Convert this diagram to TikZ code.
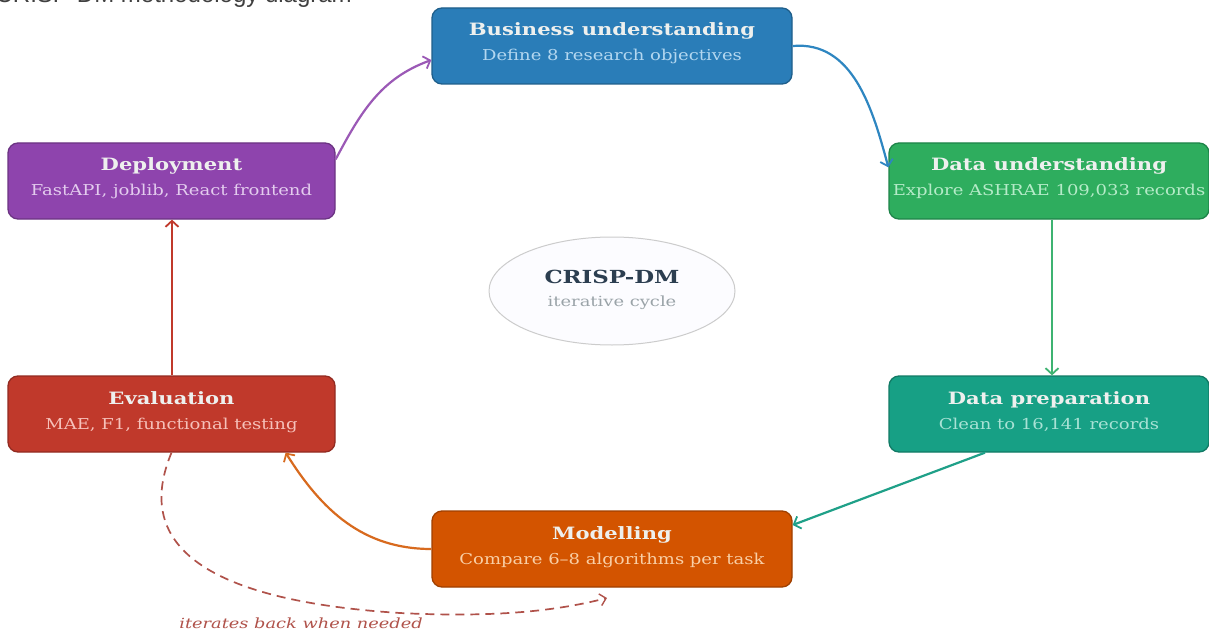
\documentclass[tikz,border=0pt]{standalone}
\usepackage{graphicx}
\usepackage{fontspec}
\setmainfont{DejaVu Serif}
\newfontfamily\capsans{Liberation Sans}
\usetikzlibrary{arrows.meta,shapes.geometric,calc}
\definecolor{cBus}{HTML}{2A7DB8}\definecolor{cBusD}{HTML}{1F5F8B}\definecolor{cBusT}{HTML}{B3D7F0}
\definecolor{cDU}{HTML}{2EAD5E}\definecolor{cDUD}{HTML}{1E8449}\definecolor{cDUT}{HTML}{B5EBC8}
\definecolor{cDep}{HTML}{8E44AD}\definecolor{cDepD}{HTML}{6C3483}\definecolor{cDepT}{HTML}{E3CCEE}
\definecolor{cDP}{HTML}{17A085}\definecolor{cDPD}{HTML}{117A65}\definecolor{cDPT}{HTML}{A8E2D5}
\definecolor{cEv}{HTML}{C0392B}\definecolor{cEvD}{HTML}{922B21}\definecolor{cEvT}{HTML}{F6C1BA}
\definecolor{cMod}{HTML}{D35400}\definecolor{cModD}{HTML}{A04000}\definecolor{cModT}{HTML}{F9CFA6}
\definecolor{cTitle}{HTML}{EEF0EE}
\definecolor{aDep}{HTML}{9B59B6}\definecolor{aBus}{HTML}{2E86C1}\definecolor{aDU}{HTML}{3DB371}
\definecolor{aDP}{HTML}{1FA088}\definecolor{aMod}{HTML}{D86A1E}\definecolor{aEv}{HTML}{C0392B}
\definecolor{aDash}{HTML}{B0524A}
\tikzset{
  phase/.style={rectangle, rounded corners=10pt, line width=1.3pt,
    minimum height=76pt, inner sep=0pt},
  ptitle/.style={anchor=base, inner sep=0pt, text=cTitle},
  psub/.style={anchor=base, inner sep=0pt},
  flow/.style={line width=2.2pt, -{Straight Barb[length=6pt,width=13pt,line width=1.8pt]}},
}
\newcommand{\ttl}[1]{\scalebox{1.24}[1]{\fontsize{17}{20}\selectfont\bfseries #1}}
\newcommand{\sbt}[1]{\scalebox{1.2}[1]{\fontsize{15}{18}\selectfont #1}}
\begin{document}
\begin{tikzpicture}[x=1pt,y=1pt]
\useasboundingbox (0,0) rectangle (1209,633);
\fill[white] (0,0) rectangle (1209,633);
\begin{scope}
\clip (0,0) rectangle (1209,633);
\node[anchor=base east, inner sep=0pt, text=black!75] (cap) at (352,630)
  {\capsans\fontsize{24}{26}\selectfont Figure 3.1: CRISP-DM methodology diagram};
\end{scope}

\node[phase, fill=cBus, draw=cBusD, minimum width=360pt] (bus) at (612,587) {};
\node[phase, fill=cDU, draw=cDUD, minimum width=320pt] (du) at (1049,452) {};
\node[phase, fill=cDep, draw=cDepD, minimum width=327pt] (dep) at (171.5,452) {};
\node[phase, fill=cDP, draw=cDPD, minimum width=320pt] (dp) at (1049,219) {};
\node[phase, fill=cEv, draw=cEvD, minimum width=327pt] (ev) at (171.5,219) {};
\node[phase, fill=cMod, draw=cModD, minimum width=360pt] (mod) at (612,84) {};

\node[ptitle] (busT) at ([yshift=10pt]bus.center) {\ttl{Business understanding}};
\node[psub, text=cBusT] (busS) at ([yshift=-15pt]bus.center) {\sbt{Define 8 research objectives}};
\node[ptitle] (duT) at ([yshift=10pt]du.center) {\ttl{Data understanding}};
\node[psub, text=cDUT] (duS) at ([yshift=-15pt]du.center) {\sbt{Explore ASHRAE 109,033 records}};
\node[ptitle] (depT) at ([yshift=10pt]dep.center) {\ttl{Deployment}};
\node[psub, text=cDepT] (depS) at ([yshift=-15pt]dep.center) {\sbt{FastAPI, joblib, React frontend}};
\node[ptitle] (dpT) at ([yshift=10pt]dp.center) {\ttl{Data preparation}};
\node[psub, text=cDPT] (dpS) at ([yshift=-15pt]dp.center) {\sbt{Clean to 16,141 records}};
\node[ptitle] (evT) at ([yshift=10pt]ev.center) {\ttl{Evaluation}};
\node[psub, text=cEvT] (evS) at ([yshift=-15pt]ev.center) {\sbt{MAE, F1, functional testing}};
\node[ptitle] (modT) at ([yshift=10pt]mod.center) {\ttl{Modelling}};
\node[psub, text=cModT] (modS) at ([yshift=-15pt]mod.center) {\sbt{Compare 6–8 algorithms per task}};

\node[ellipse, fill=black!3!blue!1!white, draw=black!20, line width=1pt,
  minimum width=246pt, minimum height=108pt, inner sep=0pt] (core) at (612,342) {};
\node[anchor=base, inner sep=0pt, text=black!70!blue!40!cyan!50!black] (coreT) at (612,350)
  {\scalebox{1.27}[1]{\fontsize{18}{20}\selectfont\bfseries\color[HTML]{2C3E50}CRISP-DM}};
\node[anchor=base, inner sep=0pt] (coreS) at (612,327)
  {\scalebox{1.28}[1]{\fontsize{14}{16}\selectfont\color[HTML]{9AA3A8}iterative cycle}};

\draw[flow, aDep] ([yshift=-17pt]dep.north east) to[out=62,in=200] ([yshift=-14pt]bus.west);
\draw[flow, aBus] (bus.east) to[out=5,in=105] ([yshift=-25pt]du.north west);
\draw[flow, aDU] ([xshift=3pt]du.south) -- ([xshift=3pt]dp.north);
\draw[flow, aDP] ([xshift=-64pt]dp.south) -- ([yshift=24pt]mod.east);
\draw[flow, aMod] (mod.west) to[out=180,in=-58] ([xshift=-50pt]ev.south east);
\draw[flow, aEv] ([xshift=0.5pt]ev.north) -- ([xshift=0.5pt]dep.south);

\coordinate (back) at (607,35);
\draw[line width=1.7pt, aDash, dash pattern=on 9pt off 6pt,
  -{Straight Barb[length=6pt,width=12pt,line width=1.4pt]}]
  (ev.south) .. controls (135,93) and (195,33) .. (400,20)
  .. controls (500,15) and (560,23) .. (back);
\node[anchor=base, inner sep=0pt, text=aDash] (lbl) at (301,5)
  {\scalebox{1.27}[1]{\itshape\fontsize{14}{16}\selectfont iterates back when needed}};
\end{tikzpicture}
\end{document}
